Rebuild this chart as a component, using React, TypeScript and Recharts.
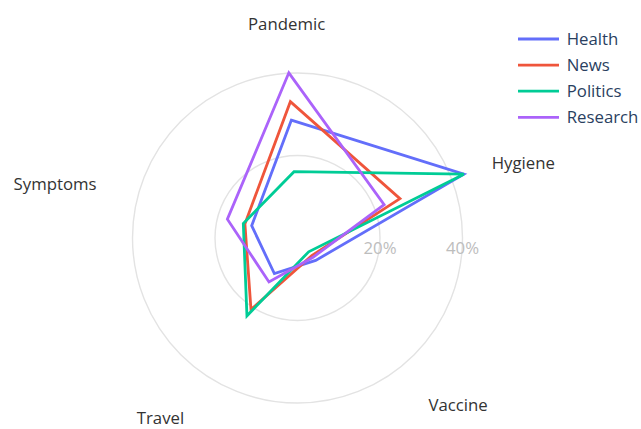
import React from 'react';
import { RadarChart, Radar, PolarGrid, PolarAngleAxis, PolarRadiusAxis, Legend } from 'recharts';

if (typeof document !== 'undefined') {
  document.body.style.margin = '0';
}

const categories = ['Pandemic', 'Hygiene', 'Vaccine', 'Travel', 'Symptoms'];
const health = [28.6, 43.2, 7.0, 10.3, 11.5];
const news = [33.1, 26.6, 5.5, 20.7, 13.2];
const politics = [16.1, 43.2, 4.3, 22.5, 13.6];
const research = [40.1, 22.5, 6.0, 12.7, 17.6];
const radialTicks = [0, 20, 40];

const seriesNames = ['Health', 'News', 'Politics', 'Research'];
const seriesColors = ['#636efa', '#EF553B', '#00cc96', '#ab63fa'];

const data = categories.map((c, i) => ({
  category: c,
  Health: health[i],
  News: news[i],
  Politics: politics[i],
  Research: research[i],
}));

const W = 641;
const H = 429;
const CX = 297.5;
const CY = 238;
const R = 165;
const FONT = '"Open Sans", sans-serif';
const FS = 16.8;

const AngleTick = (props: any) => {
  const { x, y, payload } = props;
  const dx = x - CX;
  const dy = CY - y;
  const len = Math.sqrt(dx * dx + dy * dy) || 1;
  const c = dx / len;
  const s = dy / len;
  let anchor: 'start' | 'middle' | 'end' = 'middle';
  if (c > 0.2) anchor = 'start';
  else if (c < -0.2) anchor = 'end';
  let off = 0;
  if (s > 0.5) off = 0;
  else if (s < -0.5) off = FS * 0.7;
  else off = FS * 0.35;
  return (
    <text x={x} y={y + off} textAnchor={anchor} fontFamily={FONT} fontSize={FS} fill="#333">
      {payload.value}
    </text>
  );
};

const RadiusTick = (props: any) => {
  const { x, y, payload } = props;
  if (payload.value === 0) return <g />;
  return (
    <text x={x} y={y + 16} textAnchor="middle" fontFamily={FONT} fontSize={FS} fill="#bdbdbd">
      {`${payload.value}%`}
    </text>
  );
};

const LegendContent = (props: any) => {
  const payload = props.payload || [];
  return (
    <svg width={128} height={110} style={{ overflow: 'visible', display: 'block' }}>
      {payload.map((p: any, i: number) => {
        const yy = 17 + i * 26.1;
        return (
          <g key={p.value}>
            <line x1={5} x2={46} y1={yy} y2={yy} stroke={p.color} strokeWidth={2.8} />
            <text x={53.7} y={yy + FS * 0.35} fontFamily={FONT} fontSize={FS} fill="#2a3f5f">
              {p.value}
            </text>
          </g>
        );
      })}
    </svg>
  );
};

export default function App() {
  return (
    <RadarChart
      width={W}
      height={H}
      data={data}
      cx={CX}
      cy={CY}
      outerRadius={R}
      startAngle={93}
      endAngle={-267}
      margin={{ top: 0, right: 0, bottom: 0, left: 0 }}
    >
      <PolarGrid gridType="circle" radialLines={false} stroke="#e3e3e3" strokeWidth={1.4} />
      <PolarAngleAxis
        dataKey="category"
        tick={<AngleTick />}
        tickLine={false}
        axisLine={false}
        tickSize={43}
      />
      <PolarRadiusAxis
        angle={0}
        domain={[0, 40]}
        ticks={radialTicks as any}
        tickCount={3}
        allowDataOverflow
        axisLine={false}
        tickLine={false}
        tick={<RadiusTick />}
      />
      {seriesNames.map((n, i) => (
        <Radar
          key={n}
          name={n}
          dataKey={n}
          stroke={seriesColors[i]}
          strokeWidth={2.8}
          fill="none"
          fillOpacity={0}
          dot={false}
          isAnimationActive={false}
        />
      ))}
      <Legend
        content={<LegendContent />}
        wrapperStyle={{ position: 'absolute', top: 22, left: 513, width: 128 }}
      />
    </RadarChart>
  );
}
